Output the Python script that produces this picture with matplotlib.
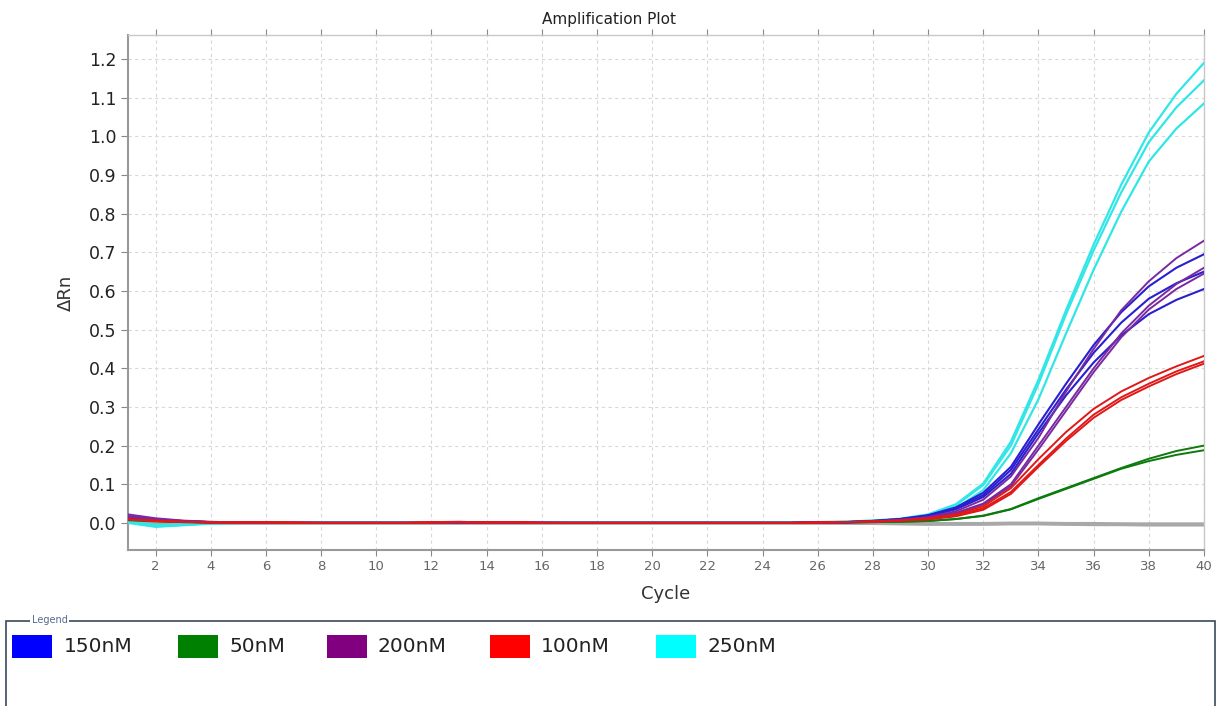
import numpy as np
import matplotlib.pyplot as plt
from matplotlib.patches import Rectangle

# Cycle numbers
cycles = np.arange(1, 41)

# Delta Rn per cycle, one list per well
cyan_1 = [0.006, -0.006, -0.003, 0.000, 0.000, 0.000, 0.000, 0.000, 0.000, 0.000,
          0.000, 0.000, 0.000, 0.000, 0.000, 0.000, 0.000, 0.000, 0.000, 0.000,
          0.000, 0.000, 0.000, 0.000, 0.001, 0.002, 0.003, 0.006, 0.011, 0.022,
          0.048, 0.102, 0.210, 0.370, 0.550, 0.720, 0.875, 1.010, 1.110, 1.190]
cyan_2 = [0.002, -0.009, -0.005, -0.001, 0.000, 0.000, 0.000, 0.000, 0.000, 0.000,
          0.000, 0.000, 0.000, 0.000, 0.000, 0.000, 0.000, 0.000, 0.000, 0.000,
          0.000, 0.000, 0.000, 0.000, 0.001, 0.002, 0.003, 0.006, 0.010, 0.021,
          0.045, 0.098, 0.200, 0.360, 0.540, 0.705, 0.855, 0.985, 1.075, 1.145]
cyan_3 = [0.000, -0.010, -0.006, -0.002, 0.000, 0.000, 0.000, 0.000, 0.000, 0.000,
          0.000, 0.000, 0.000, 0.000, 0.000, 0.000, 0.000, 0.000, 0.000, 0.000,
          0.000, 0.000, 0.000, 0.000, 0.001, 0.001, 0.003, 0.005, 0.009, 0.017,
          0.037, 0.085, 0.180, 0.320, 0.490, 0.655, 0.805, 0.935, 1.020, 1.085]

blue_1 = [0.012, 0.008, 0.004, 0.002, 0.001, 0.000, 0.000, 0.000, 0.000, 0.000,
          0.000, 0.000, 0.000, 0.000, 0.000, 0.000, 0.000, 0.000, 0.000, 0.000,
          0.000, 0.000, 0.000, 0.000, 0.000, 0.001, 0.002, 0.005, 0.010, 0.020,
          0.040, 0.078, 0.145, 0.255, 0.360, 0.460, 0.545, 0.612, 0.660, 0.695]
blue_2 = [0.010, 0.007, 0.004, 0.002, 0.001, 0.000, 0.000, 0.000, 0.000, 0.000,
          0.000, 0.000, 0.000, 0.000, 0.000, 0.000, 0.000, 0.000, 0.000, 0.000,
          0.000, 0.000, 0.000, 0.000, 0.000, 0.001, 0.002, 0.005, 0.010, 0.019,
          0.038, 0.072, 0.137, 0.242, 0.345, 0.440, 0.518, 0.580, 0.620, 0.650]
blue_3 = [0.009, 0.006, 0.003, 0.002, 0.001, 0.000, 0.000, 0.000, 0.000, 0.000,
          0.000, 0.000, 0.000, 0.000, 0.000, 0.000, 0.000, 0.000, 0.000, 0.000,
          0.000, 0.000, 0.000, 0.000, 0.000, 0.001, 0.002, 0.004, 0.009, 0.018,
          0.035, 0.067, 0.127, 0.232, 0.330, 0.415, 0.485, 0.540, 0.577, 0.605]

purple_1 = [0.022, 0.012, 0.006, 0.003, 0.001, 0.000, 0.000, 0.000, 0.000, 0.000,
            0.000, 0.000, 0.001, 0.002, 0.002, 0.000, 0.000, 0.000, 0.000, 0.000,
            0.000, 0.000, 0.000, 0.000, 0.000, 0.001, 0.002, 0.004, 0.008, 0.015,
            0.030, 0.060, 0.120, 0.220, 0.340, 0.450, 0.550, 0.625, 0.685, 0.730]
purple_2 = [0.018, 0.010, 0.005, 0.002, 0.001, 0.000, 0.000, 0.000, 0.000, 0.000,
            0.000, 0.000, 0.000, 0.001, 0.002, 0.001, 0.000, 0.000, 0.000, 0.000,
            0.000, 0.000, 0.000, 0.000, 0.000, 0.001, 0.001, 0.004, 0.007, 0.013,
            0.026, 0.050, 0.100, 0.200, 0.300, 0.400, 0.490, 0.562, 0.618, 0.660]
purple_3 = [0.016, 0.009, 0.005, 0.002, 0.001, 0.000, 0.000, 0.000, 0.000, 0.000,
            0.000, 0.000, 0.000, 0.001, 0.001, 0.000, 0.000, 0.000, 0.000, 0.000,
            0.000, 0.000, 0.000, 0.000, 0.000, 0.001, 0.001, 0.003, 0.007, 0.012,
            0.024, 0.048, 0.095, 0.190, 0.290, 0.390, 0.480, 0.552, 0.605, 0.645]

red_1 = [0.010, 0.006, 0.003, 0.001, 0.001, 0.002, 0.001, 0.000, 0.000, 0.000,
         0.000, 0.002, 0.003, 0.001, 0.002, 0.000, 0.000, 0.000, 0.000, 0.000,
         0.000, 0.000, 0.000, 0.000, 0.000, 0.001, 0.002, 0.004, 0.007, 0.012,
         0.022, 0.043, 0.090, 0.165, 0.235, 0.295, 0.340, 0.375, 0.405, 0.432]
red_2 = [0.009, 0.005, 0.003, 0.001, 0.001, 0.001, 0.001, 0.000, 0.000, 0.000,
         0.000, 0.001, 0.002, 0.001, 0.001, 0.000, 0.000, 0.000, 0.000, 0.000,
         0.000, 0.000, 0.000, 0.000, 0.000, 0.001, 0.002, 0.004, 0.006, 0.010,
         0.019, 0.038, 0.080, 0.150, 0.218, 0.280, 0.325, 0.360, 0.392, 0.418]
red_3 = [0.008, 0.005, 0.002, 0.001, 0.001, 0.001, 0.000, 0.000, 0.000, 0.000,
         0.000, 0.001, 0.002, 0.001, 0.001, 0.000, 0.000, 0.000, 0.000, 0.000,
         0.000, 0.000, 0.000, 0.000, 0.000, 0.001, 0.002, 0.003, 0.006, 0.009,
         0.017, 0.034, 0.075, 0.145, 0.212, 0.272, 0.318, 0.353, 0.385, 0.412]

green_1 = [0.008, 0.005, 0.003, 0.001, 0.000, 0.000, 0.000, 0.000, 0.000, 0.000,
           0.000, 0.000, 0.000, 0.000, 0.000, 0.000, 0.000, 0.000, 0.000, 0.000,
           0.000, 0.000, 0.000, 0.000, 0.000, 0.000, 0.001, 0.002, 0.003, 0.005,
           0.010, 0.019, 0.036, 0.064, 0.090, 0.116, 0.142, 0.166, 0.186, 0.200]
green_2 = [0.007, 0.004, 0.002, 0.001, 0.000, 0.000, 0.000, 0.000, 0.000, 0.000,
           0.000, 0.000, 0.000, 0.000, 0.000, 0.000, 0.000, 0.000, 0.000, 0.000,
           0.000, 0.000, 0.000, 0.000, 0.000, 0.000, 0.001, 0.002, 0.003, 0.005,
           0.010, 0.018, 0.035, 0.062, 0.088, 0.114, 0.140, 0.160, 0.176, 0.188]

# no-template controls, flat
ntc_1 = [0.004, 0.002, 0.001, 0.000, 0.000, 0.000, 0.000, 0.000, 0.000, 0.000,
         0.000, 0.000, 0.000, 0.000, 0.000, 0.000, 0.000, 0.000, 0.000, 0.000,
         0.000, 0.000, 0.000, 0.000, 0.000, 0.000, 0.000, 0.000, -0.001, -0.002,
         -0.002, -0.002, -0.001, -0.001, -0.002, -0.002, -0.003, -0.003, -0.003, -0.003]
ntc_2 = [0.003, 0.001, 0.000, 0.000, 0.000, 0.000, 0.000, 0.000, 0.000, 0.000,
         0.000, 0.000, 0.000, 0.000, 0.000, 0.000, 0.000, 0.000, 0.000, 0.000,
         0.000, 0.000, 0.000, 0.000, 0.000, 0.000, 0.000, -0.001, -0.002, -0.003,
         -0.003, -0.003, -0.002, -0.002, -0.003, -0.004, -0.004, -0.005, -0.005, -0.005]

legend_labels = ['150nM', '50nM', '200nM', '100nM', '250nM']
legend_colors = ['#0000ff', '#008000', '#800080', '#ff0000', '#00ffff']

plt.rcParams['font.family'] = 'DejaVu Sans'

fig = plt.figure(figsize=(12.19, 7.06), dpi=100)
ax = fig.add_axes([0.105, 0.221, 0.8827, 0.7294])

for s in [ntc_1, ntc_2]:
    ax.plot(cycles, s, color='#a8a8a8', lw=2.5, zorder=2)
for s in [cyan_1, cyan_2, cyan_3]:
    ax.plot(cycles, s, color='#30e6e6', lw=1.6, zorder=3)
for s in [green_1, green_2]:
    ax.plot(cycles, s, color='#0c7a0c', lw=1.4, zorder=3)
for s in [blue_1, blue_2, blue_3]:
    ax.plot(cycles, s, color='#2a1fd0', lw=1.5, zorder=3)
for s in [purple_1, purple_2, purple_3]:
    ax.plot(cycles, s, color='#7a2aa0', lw=1.4, zorder=3)
for s in [red_1, red_2, red_3]:
    ax.plot(cycles, s, color='#e01818', lw=1.4, zorder=4)

ax.set_xlim(1, 40)
ax.set_ylim(-0.07, 1.262)
ax.set_xticks(np.arange(2, 41, 2))
ax.set_yticks(np.round(np.arange(0, 1.21, 0.1), 1))
ax.set_yticklabels([f'{v:.1f}' for v in np.arange(0, 1.21, 0.1)])
ax.tick_params(axis='y', labelsize=12.5, length=5, color='#888888', labelcolor='#222222')
ax.tick_params(axis='x', labelsize=9.5, length=4, color='#888888', labelcolor='#666666',
               top=True)
ax.grid(True, color='#d8d8d8', linestyle=(0, (3, 3)), linewidth=0.8)
for side in ['left', 'bottom']:
    ax.spines[side].set_color('#999999')
    ax.spines[side].set_linewidth(1.5)
for side in ['top', 'right']:
    ax.spines[side].set_color('#c8c8c8')
    ax.spines[side].set_linewidth(1.0)

ax.set_xlabel('Cycle', fontsize=13, color='#333333', labelpad=8)
ax.set_ylabel('ΔRn', fontsize=13, color='#333333', labelpad=10)
fig.text(0.5, 0.972, 'Amplification Plot', ha='center', va='center', fontsize=11,
         color='#222222')

# legend panel at the bottom
fig.add_artist(Rectangle((0.005, -0.05), 0.992, 0.17, transform=fig.transFigure,
                         fill=False, edgecolor='#3a4a5a', linewidth=1.2))
fig.text(0.026, 0.122, 'Legend', fontsize=7, color='#5a6a8a', ha='left', va='center',
         bbox=dict(facecolor='white', edgecolor='none', pad=1))
patch_x = [0.010, 0.146, 0.268, 0.402, 0.538]
for px, lab, col in zip(patch_x, legend_labels, legend_colors):
    fig.add_artist(Rectangle((px, 0.068), 0.033, 0.033, transform=fig.transFigure,
                             facecolor=col, edgecolor='none'))
    fig.text(px + 0.042, 0.084, lab, fontsize=14.5, color='#222222', ha='left', va='center')

fig.savefig('out.png', dpi=100)
